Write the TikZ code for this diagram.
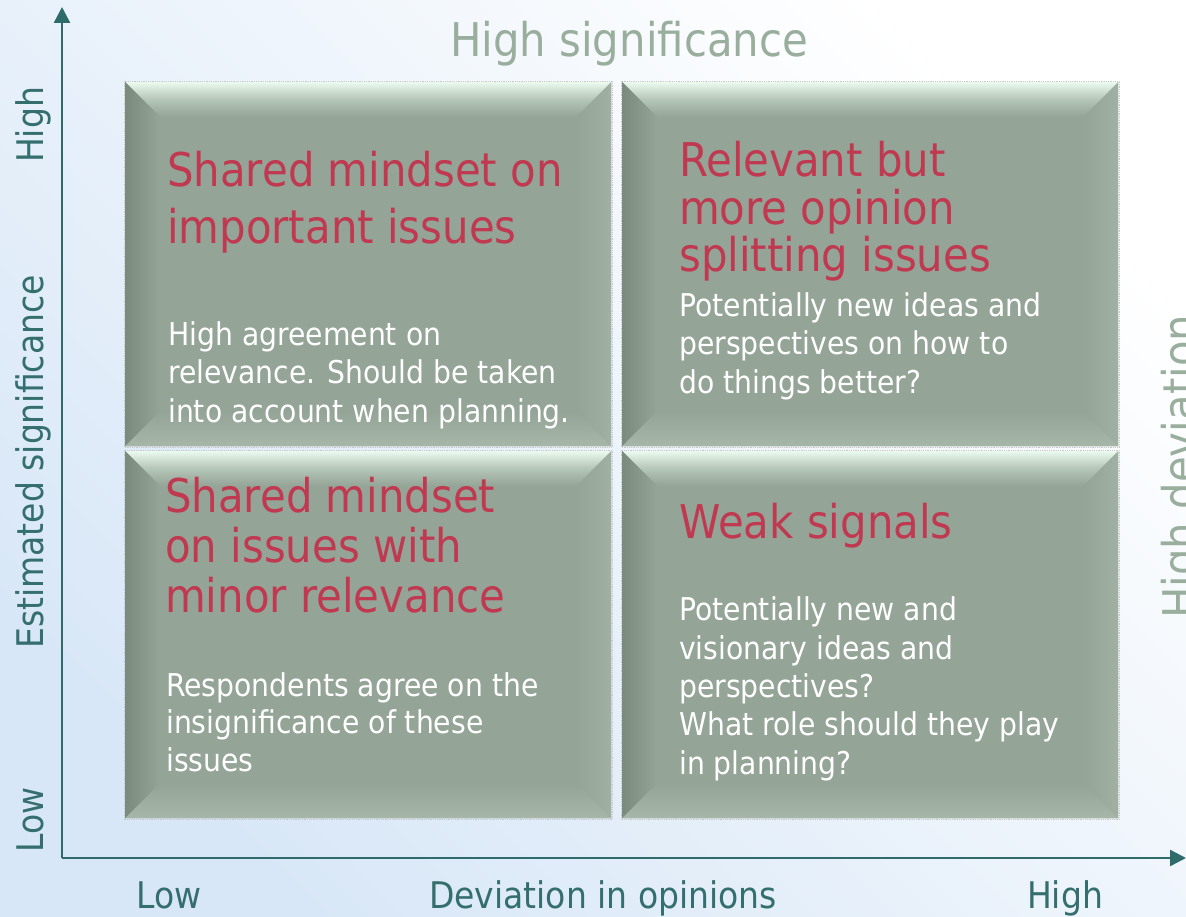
\documentclass[tikz,border=0pt]{standalone}
\usepackage{fontspec}
\setmainfont[FakeStretch=0.9]{DejaVu Sans}
\usetikzlibrary{calc,arrows.meta}
\definecolor{axisteal}{RGB}{46,107,106}
\definecolor{labteal}{RGB}{52,110,110}
\definecolor{sigcol}{RGB}{154,174,158}
\definecolor{redt}{RGB}{192,57,80}
\definecolor{boxmain}{RGB}{148,164,151}
\definecolor{bvtop}{RGB}{234,250,238}
\definecolor{bvtopmid}{RGB}{180,198,184}
\definecolor{bvleft}{RGB}{122,139,126}
\definecolor{bvright}{RGB}{160,176,163}
\definecolor{bvbottom}{RGB}{166,182,169}
\definecolor{bgblue}{RGB}{216,231,247}
\def\bvw{35}
\newcommand\bevelize[1]{%
  \shade[top color=bvtop, bottom color=boxmain, middle color=bvtopmid]
    (#1.north west) -- (#1.north east) -- ($(#1.north east)+(-\bvw,\bvw)$) -- ($(#1.north west)+(\bvw,\bvw)$) -- cycle;
  \shade[left color=bvleft, right color=boxmain]
    (#1.north west) -- ($(#1.north west)+(\bvw,\bvw)$) -- ($(#1.south west)+(\bvw,-\bvw)$) -- (#1.south west) -- cycle;
  \shade[left color=boxmain, right color=bvright]
    (#1.north east) -- (#1.south east) -- ($(#1.south east)+(-\bvw,-\bvw)$) -- ($(#1.north east)+(-\bvw,\bvw)$) -- cycle;
  \shade[top color=boxmain, bottom color=bvbottom]
    (#1.south west) -- ($(#1.south west)+(\bvw,-\bvw)$) -- ($(#1.south east)+(-\bvw,-\bvw)$) -- (#1.south east) -- cycle;
  \draw[dotborder] ($(#1.north west)+(-1,-1)$) rectangle ($(#1.south east)+(1,1)$);
}
\begin{document}
\begin{tikzpicture}[x=1pt,y=-1pt,
  qbox/.style={fill=boxmain, draw=none, inner sep=0, anchor=north west},
  dotborder/.style={draw=black!22, densely dotted, line width=0.8pt},
  ttl/.style={anchor=base west, inner sep=0, align=left, text=redt},
  body/.style={anchor=base west, inner sep=0, align=left, text=white},
  axlab/.style={inner sep=0, anchor=base, text=labteal, font=\fontsize{36.7}{44}\selectfont},
  axis/.style={draw=axisteal, line width=2.5pt, -{Triangle[width=16pt,length=16pt]}}
]
\useasboundingbox (0,0) rectangle (1186,917);
\shade[bottom color=bgblue, top color=white, shading angle=-45] (0,0) rectangle (1186,917);

% quadrants
\node[qbox, minimum width=486pt, minimum height=364pt] (tl) at (125,82) {};
\node[qbox, minimum width=496pt, minimum height=364pt] (tr) at (622,82) {};
\node[qbox, minimum width=486pt, minimum height=367pt] (bl) at (125,451) {};
\node[qbox, minimum width=496pt, minimum height=367pt] (br) at (622,451) {};
\bevelize{tl}
\bevelize{tr}
\bevelize{bl}
\bevelize{br}

% axes
\coordinate (origin) at (62,858);
\coordinate (ytip) at (62,7);
\coordinate (xtip) at (1186,858);
\draw[axis] (origin) -- (ytip);
\draw[axis] (origin) -- (xtip);

% headings
\node[inner sep=0, anchor=base, text=sigcol, font=\fontsize{46.5}{56}\selectfont] (hsig) at (629,57) {High significance};
\node[inner sep=0, anchor=base west, rotate=90, text=sigcol, font=\fontsize{46.5}{56}\selectfont] (hdev) at (1196,619) {High deviation};

% axis labels
\node[axlab, rotate=90] (yhigh) at (43,125) {High};
\node[axlab, rotate=90] (ylab) at (43,462) {Estimated significance};
\node[axlab, rotate=90] (ylow) at (43,820) {Low};
\node[axlab] (xlow) at (169,908) {Low};
\node[axlab] (xlab) at (603,908) {Deviation in opinions};
\node[axlab] (xhigh) at (1065,908) {High};

% quadrant texts (anchor = baseline of the last line)
\node[ttl, font=\fontsize{46.5}{57}\selectfont] (tlt) at (167,244) {Shared mindset on\\important issues};
\node[body, font=\fontsize{31.4}{38.5}\selectfont] (tlb) at (168,422) {High agreement on\\relevance. Should be taken\\into account when planning.};

\node[ttl, font=\fontsize{46.5}{47.6}\selectfont] (trt) at (679,272) {Relevant but\\more opinion\\splitting issues};
\node[body, font=\fontsize{31.4}{38.5}\selectfont] (trb) at (679,393) {Potentially new ideas and\\perspectives on how to\\do things better?};

\node[ttl, font=\fontsize{46.5}{50}\selectfont] (blt) at (165,612) {Shared mindset\\on issues with\\minor relevance};
\node[body, font=\fontsize{31.4}{37.5}\selectfont] (blb) at (166,771) {Respondents agree on the\\insignificance of these\\issues};

\node[ttl, font=\fontsize{46.5}{50}\selectfont] (brt) at (679,538) {Weak signals};
\node[body, font=\fontsize{31.4}{38.3}\selectfont] (brb) at (679,774) {Potentially new and\\visionary ideas and\\perspectives?\\What role should they play\\in planning?};
\end{tikzpicture}
\end{document}
